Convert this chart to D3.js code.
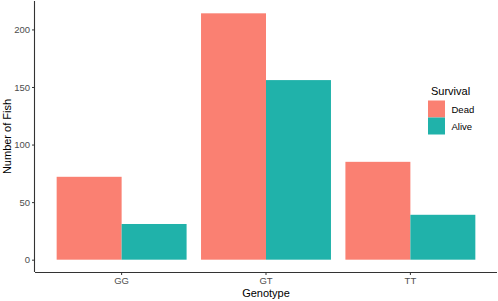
<!DOCTYPE html>
<html lang="en">
<head>
  <meta charset="UTF-8">
  <title>Number of Fish by Genotype</title>
  <script src="https://d3js.org/d3.v7.min.js"></script>
  <style>
    body, html { margin: 0; padding: 0; background: #fff; }
    svg { display: block; font-family: "Liberation Sans", Arial, sans-serif; }
    .tick text { fill: #4d4d4d; font-size: 9.5px; }
    .axis-title { font-size: 11px; fill: #000; }
  </style>
</head>
<body>
  <svg width="498" height="301"></svg>
  <script>
    // Data
    const genotypes = ['GG', 'GT', 'TT'];
    const survival = ['Dead', 'Alive'];
    const dead = [72, 214, 85];
    const alive = [31, 156, 39];
    const colors = ['#FA8072', '#20B2AA'];

    const rows = genotypes.map((g, i) => ({ genotype: g, Dead: dead[i], Alive: alive[i] }));

    const svg = d3.select('svg');
    const margin = { left: 35, right: 1, top: 1, bottom: 29 };
    const width = 498;
    const height = 301;

    // ggplot-like expansion: 0.6 units on discrete axis
    const n = genotypes.length;
    const step = (width - margin.right - margin.left) / (n + 0.2);
    const x = d3.scaleBand()
      .domain(genotypes)
      .range([margin.left + 0.1 * step, width - margin.right - 0.1 * step])
      .paddingInner(0.1)
      .paddingOuter(0.05);

    const xSub = d3.scaleBand()
      .domain(survival)
      .range([0, x.bandwidth()]);

    const yMax = d3.max(dead.concat(alive));
    const y = d3.scaleLinear()
      .domain([-0.05 * yMax, 1.05 * yMax])
      .range([height - margin.bottom, margin.top]);

    // Bars
    const groups = svg.append('g')
      .selectAll('g')
      .data(rows)
      .join('g')
      .attr('transform', (d) => `translate(${x(d.genotype)},0)`);

    groups.selectAll('rect')
      .data((d) => survival.map((s, j) => ({ key: s, value: d[s], color: colors[j] })))
      .join('rect')
      .attr('x', (d) => xSub(d.key))
      .attr('width', xSub.bandwidth())
      .attr('y', (d) => y(d.value))
      .attr('height', (d) => y(0) - y(d.value))
      .attr('fill', (d) => d.color);

    // Axes
    const xAxis = svg.append('g')
      .attr('transform', `translate(0,${height - margin.bottom})`)
      .call(d3.axisBottom(x).tickSize(3).tickPadding(2).tickSizeOuter(0));

    const yAxis = svg.append('g')
      .attr('transform', `translate(${margin.left},0)`)
      .call(d3.axisLeft(y).tickValues([0, 50, 100, 150, 200]).tickSize(3).tickPadding(2).tickSizeOuter(0));

    [xAxis, yAxis].forEach((a) => {
      a.select('.domain').attr('stroke', '#333').attr('stroke-width', 1.1);
      a.selectAll('.tick line').attr('stroke', '#333');
    });
    xAxis.select('.domain').attr('d', `M${margin.left},0.5H${width - margin.right}`);
    yAxis.select('.domain').attr('d', `M-0.5,${margin.top}V${height - margin.bottom}`);

    // Axis titles
    svg.append('text')
      .attr('class', 'axis-title')
      .attr('x', (margin.left + width - margin.right) / 2)
      .attr('y', 297)
      .attr('text-anchor', 'middle')
      .text('Genotype');

    svg.append('text')
      .attr('class', 'axis-title')
      .attr('transform', `translate(10.5,${(margin.top + height - margin.bottom) / 2}) rotate(-90)`)
      .attr('text-anchor', 'middle')
      .text('Number of Fish');

    // Legend
    const legend = svg.append('g').attr('transform', 'translate(428,83)');
    legend.append('text')
      .attr('x', 3)
      .attr('y', 12)
      .attr('font-size', 11)
      .attr('fill', '#000')
      .text('Survival');

    const item = legend.selectAll('g.item')
      .data(survival)
      .join('g')
      .attr('class', 'item')
      .attr('transform', (d, i) => `translate(0,${17.5 + i * 17})`);

    item.append('rect')
      .attr('width', 17)
      .attr('height', 17)
      .attr('fill', (d, i) => colors[i]);

    item.append('text')
      .attr('x', 23.5)
      .attr('y', 12.3)
      .attr('font-size', 9.5)
      .attr('fill', '#000')
      .text((d) => d);
  </script>
</body>
</html>
